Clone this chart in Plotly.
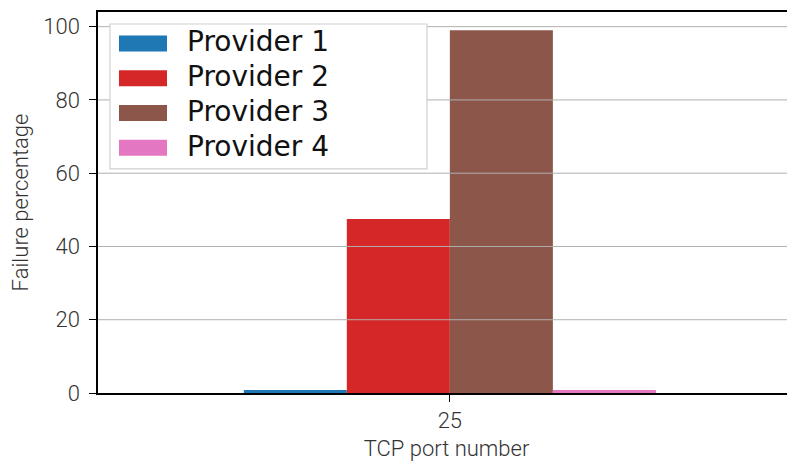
import plotly.graph_objects as go

categories = ["25"]
providers = ["Provider 1", "Provider 2", "Provider 3", "Provider 4"]
values = [[0.8], [47.5], [99.0], [0.8]]
colors = ["#1f77b4", "#d62728", "#8c564b", "#e377c2"]
y_ticks = [0, 20, 40, 60, 80, 100]

fig = go.Figure()
for name, vals, col in zip(providers, values, colors):
    fig.add_trace(go.Bar(x=categories, y=vals, name=name, showlegend=False,
                         marker=dict(color=col, line=dict(width=0))))

# gridlines drawn above the bars (as in the reference)
grid_col = "#b0b0b0"
for t in y_ticks[1:]:
    fig.add_shape(type="line", xref="paper", yref="y", x0=0, x1=1, y0=t, y1=t,
                  line=dict(color=grid_col, width=1), layer="above")
for c in categories:
    fig.add_shape(type="line", xref="x", yref="paper", x0=c, x1=c, y0=0, y1=1,
                  line=dict(color=grid_col, width=1), layer="above")

# legend box (matplotlib-style)
fig.add_shape(type="rect", xref="paper", yref="paper",
              x0=0.0172, x1=0.472, y0=0.588, y1=0.9685,
              fillcolor="white", line=dict(color="#d0d0d0", width=1.2),
              layer="above")
top_c, step, sw_h = 0.9173, 0.0911, 0.042
for i, (name, col) in enumerate(zip(providers, colors)):
    yc = top_c - i * step
    fig.add_shape(type="rect", xref="paper", yref="paper",
                  x0=0.0301, x1=0.0990, y0=yc - sw_h / 2, y1=yc + sw_h / 2,
                  fillcolor=col, line=dict(width=0), layer="above")
    fig.add_annotation(xref="paper", yref="paper", x=0.1248, y=yc + 0.004,
                       xanchor="left", yanchor="middle", showarrow=False,
                       text=name,
                       font=dict(family="DejaVu Sans", size=28, color="#111"))

tick_font = dict(family="Roboto", size=22, color="#333", weight=300)
title_font = dict(family="Roboto", size=22, color="#333", weight=300)

fig.update_layout(
    width=787, height=456,
    margin=dict(l=90, r=0, t=4, b=71),
    paper_bgcolor="white", plot_bgcolor="white",
    barmode="group", bargap=0.2, bargroupgap=0,
    font=dict(family="Roboto", size=16, color="#333"),
    showlegend=False,
    xaxis=dict(type="category", range=[-0.683, 0.670],
               showline=True, linecolor="black", linewidth=1.5, mirror=True,
               ticks="outside", ticklen=7, tickcolor="black", tickwidth=1.3,
               showgrid=False,
               title=dict(text="TCP port number", standoff=8, font=title_font),
               tickfont=tick_font),
    yaxis=dict(range=[0, 104], tickvals=y_ticks,
               showline=True, linecolor="black", linewidth=1.5,
               ticks="outside", ticklen=7, tickcolor="black", tickwidth=1.3,
               ticklabelstandoff=5,
               showgrid=False, zeroline=False,
               title=dict(text="Failure percentage", standoff=14, font=title_font),
               tickfont=tick_font),
)

fig.write_html("out.html")
